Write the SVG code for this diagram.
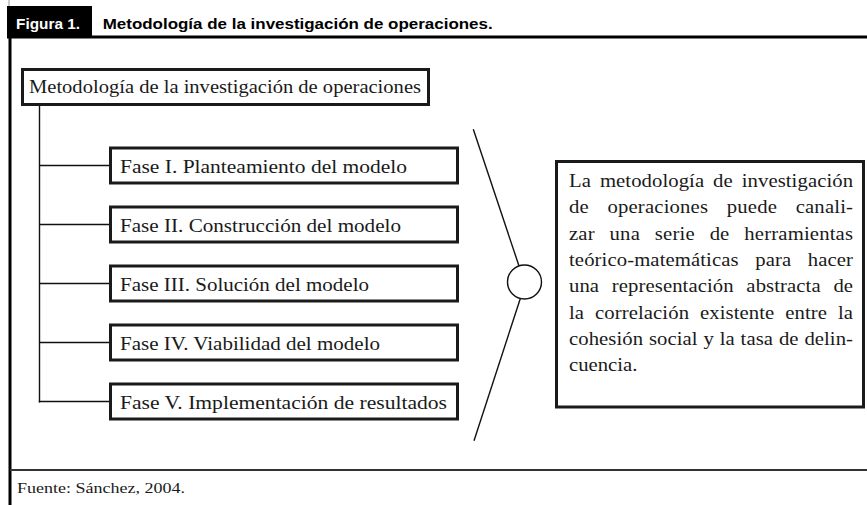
<svg xmlns="http://www.w3.org/2000/svg" width="867" height="505" viewBox="0 0 867 505">
<style>
.frame{stroke:#000;fill:none}
.box{fill:#fff;stroke:#1a1a1a;stroke-width:3}
.conn{stroke:#111;stroke-width:1.4;fill:none}
.serif{font-family:"Liberation Serif","Times New Roman",serif;fill:#1a1a1a}
.ph{font-size:19px}
.body{font-size:18px}
.hdr{font-family:"Liberation Sans",Arial,sans-serif;font-weight:bold;font-size:15.5px}
</style>
<rect width="867" height="505" fill="#fff"/>
<g id="frame">
<line x1="9" y1="0" x2="9" y2="6" stroke="#999" stroke-width="1"/>
<rect x="7" y="6" width="85" height="31" fill="#000"/>
<text x="16" y="28.5" class="hdr" fill="#fff" textLength="64" lengthAdjust="spacingAndGlyphs">Figura 1.</text>
<text x="102.7" y="28.5" class="hdr" fill="#000" textLength="390" lengthAdjust="spacingAndGlyphs">Metodología de la investigación de operaciones.</text>
<line x1="7" y1="37" x2="867" y2="37" class="frame" stroke-width="3"/>
<line x1="10" y1="36" x2="10" y2="505" class="frame" stroke-width="3"/>
<line x1="10" y1="470" x2="867" y2="470" stroke="#333" stroke-width="2"/>
<text x="17" y="492.5" class="serif" font-size="15" textLength="168" lengthAdjust="spacingAndGlyphs">Fuente: Sánchez, 2004.</text>
</g>
<g id="connectors">
<line x1="39.5" y1="106" x2="39.5" y2="402.5" class="conn"/>
<line x1="39.5" y1="165.5" x2="110" y2="165.5" class="conn"/>
<line x1="39.5" y1="224.5" x2="110" y2="224.5" class="conn"/>
<line x1="39.5" y1="283.5" x2="110" y2="283.5" class="conn"/>
<line x1="39.5" y1="342.5" x2="110" y2="342.5" class="conn"/>
<line x1="38.8" y1="401.5" x2="110" y2="401.5" class="conn"/>
<line x1="473.3" y1="129.3" x2="519" y2="266" class="conn"/>
<line x1="520.5" y1="298" x2="474" y2="440.7" class="conn"/>
</g>
<g id="root">
<rect x="22.5" y="69.5" width="406" height="35" class="box"/>
<text x="29" y="93" class="serif ph" textLength="392" lengthAdjust="spacingAndGlyphs">Metodología de la investigación de operaciones</text>
</g>
<g id="fase1">
<rect x="110.5" y="148" width="347" height="35" class="box"/>
<text x="120" y="172.5" class="serif ph" textLength="287" lengthAdjust="spacingAndGlyphs">Fase I. Planteamiento del modelo</text>
</g>
<g id="fase2">
<rect x="110.5" y="207" width="347" height="35" class="box"/>
<text x="120" y="231.5" class="serif ph" textLength="281" lengthAdjust="spacingAndGlyphs">Fase II. Construcción del modelo</text>
</g>
<g id="fase3">
<rect x="110.5" y="266" width="347" height="35" class="box"/>
<text x="120" y="290.5" class="serif ph" textLength="249" lengthAdjust="spacingAndGlyphs">Fase III. Solución del modelo</text>
</g>
<g id="fase4">
<rect x="110.5" y="325" width="347" height="35" class="box"/>
<text x="120" y="349.5" class="serif ph" textLength="260" lengthAdjust="spacingAndGlyphs">Fase IV. Viabilidad del modelo</text>
</g>
<g id="fase5">
<rect x="110.5" y="384" width="347" height="35" class="box"/>
<text x="120" y="408.5" class="serif ph" textLength="327" lengthAdjust="spacingAndGlyphs">Fase V. Implementación de resultados</text>
</g>
<g id="hub">
<circle cx="524.5" cy="282" r="17" fill="#fff" stroke="#111" stroke-width="1.4"/>
</g>
<g id="descripcion">
<rect x="556.5" y="161.5" width="307" height="245.5" class="box"/>
<g class="serif body" transform="translate(569,0) scale(1.15,1)">
<text x="0" y="187" word-spacing="3.2" textLength="246.96" lengthAdjust="spacing">La metodología de investigación</text>
<text x="0" y="213.3" word-spacing="11.5" textLength="246.96" lengthAdjust="spacing">de operaciones puede canali-</text>
<text x="0" y="239.6" word-spacing="8.3" textLength="246.96" lengthAdjust="spacing">zar una serie de herramientas</text>
<text x="0" y="266" word-spacing="9.8" textLength="246.96" lengthAdjust="spacing">teórico-matemáticas para hacer</text>
<text x="0" y="292.3" word-spacing="6.4" textLength="246.96" lengthAdjust="spacing">una representación abstracta de</text>
<text x="0" y="318.6" word-spacing="4.9" textLength="246.96" lengthAdjust="spacing">la correlación existente entre la</text>
<text x="0" y="345" word-spacing="0.5" textLength="246.96" lengthAdjust="spacing">cohesión social y la tasa de delin-</text>
<text x="0" y="371.3">cuencia.</text>
</g>
</g>
</svg>
